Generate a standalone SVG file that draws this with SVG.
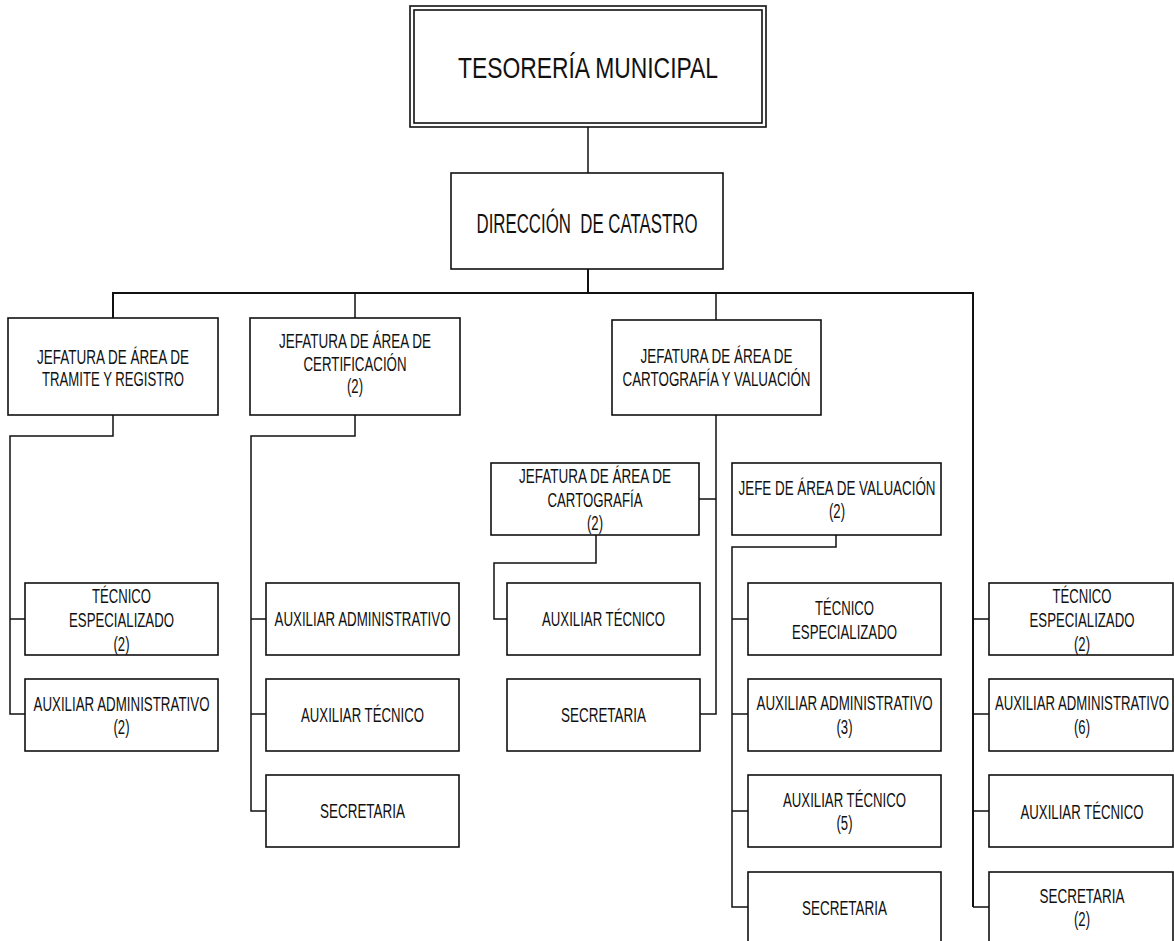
<svg xmlns="http://www.w3.org/2000/svg" width="1174" height="941" viewBox="0 0 1174 941">
  <style>
    .box { fill: #ffffff; stroke: #111111; stroke-width: 1.6; }
    .ln { fill: none; stroke: #111111; stroke-width: 1.5; }
    .bar { fill: none; stroke: #111111; stroke-width: 2; }
    text { font-family: "Liberation Sans", Arial, sans-serif; font-size: 20px; fill: #111111; text-anchor: middle; }
    .big { font-size: 30px; }
    .mid { font-size: 27px; }
  </style>
  <rect width="1174" height="941" fill="#ffffff"/>

  <!-- connectors -->
  <g id="connectors">
    <path class="ln" d="M588,127 V173"/>
    <path class="bar" d="M588,269 V293"/>
    <path class="bar" d="M113,318 V293 H973 V907"/>
    <path class="ln" d="M355,293 V318 M716,293 V320"/>
    <path class="ln" d="M973,619 H989 M973,714 H989 M973,811 H989 M973,907 H989"/>
    <!-- trámite y registro -->
    <path class="ln" d="M113,415 V436 H10 V714 H25 M10,619 H25"/>
    <!-- certificación -->
    <path class="ln" d="M355,415 V436 H251 V811 H266 M251,619 H266 M251,714 H266"/>
    <!-- cartografía y valuación -->
    <path class="ln" d="M716,415 V714 H700 M716,499 H699"/>
    <path class="ln" d="M596,535 V563 H494 V619 H507"/>
    <path class="ln" d="M836,535 V547 H732 V907 H748 M732,619 H748 M732,714 H748 M732,811 H748"/>
  </g>

  <g id="tesoreria">
    <rect class="box" x="410" y="6" width="356" height="121"/>
    <rect class="box" x="414" y="10" width="348" height="113"/>
    <text class="big" x="588" y="78" textLength="260" lengthAdjust="spacingAndGlyphs">TESORERÍA MUNICIPAL</text>
  </g>

  <g id="direccion">
    <rect class="box" x="451" y="173" width="272" height="96"/>
    <text class="mid" x="587" y="233" textLength="221" lengthAdjust="spacingAndGlyphs" xml:space="preserve">DIRECCIÓN  DE CATASTRO</text>
  </g>

  <g id="jef-tramite">
    <rect class="box" x="8" y="318" width="210" height="97"/>
    <text x="113" y="364" textLength="152" lengthAdjust="spacingAndGlyphs">JEFATURA DE ÁREA DE</text>
    <text x="113" y="386" textLength="142" lengthAdjust="spacingAndGlyphs">TRAMITE Y REGISTRO</text>
  </g>

  <g id="jef-certificacion">
    <rect class="box" x="250" y="318" width="210" height="97"/>
    <text x="355" y="348" textLength="152" lengthAdjust="spacingAndGlyphs">JEFATURA DE ÁREA DE</text>
    <text x="355" y="371" textLength="103" lengthAdjust="spacingAndGlyphs">CERTIFICACIÓN</text>
    <text x="355" y="393" textLength="16" lengthAdjust="spacingAndGlyphs">(2)</text>
  </g>

  <g id="jef-cartografia-valuacion">
    <rect class="box" x="612" y="320" width="209" height="95"/>
    <text x="716.5" y="363" textLength="152" lengthAdjust="spacingAndGlyphs">JEFATURA DE ÁREA DE</text>
    <text x="716.5" y="386" textLength="188" lengthAdjust="spacingAndGlyphs">CARTOGRAFÍA Y VALUACIÓN</text>
  </g>

  <g id="jef-cartografia">
    <rect class="box" x="491" y="463" width="208" height="72"/>
    <text x="595" y="483" textLength="152" lengthAdjust="spacingAndGlyphs">JEFATURA DE ÁREA DE</text>
    <text x="595" y="507" textLength="95" lengthAdjust="spacingAndGlyphs">CARTOGRAFÍA</text>
    <text x="595" y="530" textLength="16" lengthAdjust="spacingAndGlyphs">(2)</text>
  </g>

  <g id="jefe-valuacion">
    <rect class="box" x="732" y="463" width="209" height="72"/>
    <text x="837" y="495" textLength="197" lengthAdjust="spacingAndGlyphs">JEFE DE ÁREA DE VALUACIÓN</text>
    <text x="837" y="518" textLength="16" lengthAdjust="spacingAndGlyphs">(2)</text>
  </g>

  <!-- trámite y registro staff -->
  <g id="tr-tecnico">
    <rect class="box" x="25" y="583" width="193" height="72"/>
    <text x="121.5" y="603" textLength="59" lengthAdjust="spacingAndGlyphs">TÉCNICO</text>
    <text x="121.5" y="627" textLength="105" lengthAdjust="spacingAndGlyphs">ESPECIALIZADO</text>
    <text x="121.5" y="651" textLength="16" lengthAdjust="spacingAndGlyphs">(2)</text>
  </g>
  <g id="tr-aux-admin">
    <rect class="box" x="25" y="679" width="193" height="72"/>
    <text x="121.5" y="711" textLength="176" lengthAdjust="spacingAndGlyphs">AUXILIAR ADMINISTRATIVO</text>
    <text x="121.5" y="734" textLength="16" lengthAdjust="spacingAndGlyphs">(2)</text>
  </g>

  <!-- certificación staff -->
  <g id="ce-aux-admin">
    <rect class="box" x="266" y="583" width="193" height="72"/>
    <text x="362.5" y="626" textLength="176" lengthAdjust="spacingAndGlyphs">AUXILIAR ADMINISTRATIVO</text>
  </g>
  <g id="ce-aux-tecnico">
    <rect class="box" x="266" y="679" width="193" height="72"/>
    <text x="362.5" y="722" textLength="123" lengthAdjust="spacingAndGlyphs">AUXILIAR TÉCNICO</text>
  </g>
  <g id="ce-secretaria">
    <rect class="box" x="266" y="775" width="193" height="72"/>
    <text x="362.5" y="818" textLength="85" lengthAdjust="spacingAndGlyphs">SECRETARIA</text>
  </g>

  <!-- cartografía staff -->
  <g id="ca-aux-tecnico">
    <rect class="box" x="507" y="583" width="193" height="72"/>
    <text x="603.5" y="626" textLength="123" lengthAdjust="spacingAndGlyphs">AUXILIAR TÉCNICO</text>
  </g>
  <g id="ca-secretaria">
    <rect class="box" x="507" y="679" width="193" height="72"/>
    <text x="603.5" y="722" textLength="85" lengthAdjust="spacingAndGlyphs">SECRETARIA</text>
  </g>

  <!-- valuación staff -->
  <g id="va-tecnico">
    <rect class="box" x="748" y="583" width="193" height="72"/>
    <text x="844.5" y="615" textLength="59" lengthAdjust="spacingAndGlyphs">TÉCNICO</text>
    <text x="844.5" y="639" textLength="105" lengthAdjust="spacingAndGlyphs">ESPECIALIZADO</text>
  </g>
  <g id="va-aux-admin">
    <rect class="box" x="748" y="679" width="193" height="72"/>
    <text x="844.5" y="710" textLength="176" lengthAdjust="spacingAndGlyphs">AUXILIAR ADMINISTRATIVO</text>
    <text x="844.5" y="734" textLength="16" lengthAdjust="spacingAndGlyphs">(3)</text>
  </g>
  <g id="va-aux-tecnico">
    <rect class="box" x="748" y="775" width="193" height="72"/>
    <text x="844.5" y="807" textLength="123" lengthAdjust="spacingAndGlyphs">AUXILIAR TÉCNICO</text>
    <text x="844.5" y="830" textLength="16" lengthAdjust="spacingAndGlyphs">(5)</text>
  </g>
  <g id="va-secretaria">
    <rect class="box" x="748" y="872" width="193" height="72"/>
    <text x="844.5" y="915" textLength="85" lengthAdjust="spacingAndGlyphs">SECRETARIA</text>
  </g>

  <!-- staff attached directly to the dirección -->
  <g id="di-tecnico">
    <rect class="box" x="989" y="583" width="184" height="72"/>
    <text x="1082" y="603" textLength="59" lengthAdjust="spacingAndGlyphs">TÉCNICO</text>
    <text x="1082" y="627" textLength="105" lengthAdjust="spacingAndGlyphs">ESPECIALIZADO</text>
    <text x="1082" y="651" textLength="16" lengthAdjust="spacingAndGlyphs">(2)</text>
  </g>
  <g id="di-aux-admin">
    <rect class="box" x="989" y="679" width="184" height="72"/>
    <text x="1082" y="710" textLength="174" lengthAdjust="spacingAndGlyphs">AUXILIAR ADMINISTRATIVO</text>
    <text x="1082" y="734" textLength="16" lengthAdjust="spacingAndGlyphs">(6)</text>
  </g>
  <g id="di-aux-tecnico">
    <rect class="box" x="989" y="775" width="184" height="72"/>
    <text x="1082" y="819" textLength="123" lengthAdjust="spacingAndGlyphs">AUXILIAR TÉCNICO</text>
  </g>
  <g id="di-secretaria">
    <rect class="box" x="989" y="872" width="184" height="72"/>
    <text x="1082" y="903" textLength="85" lengthAdjust="spacingAndGlyphs">SECRETARIA</text>
    <text x="1082" y="926" textLength="16" lengthAdjust="spacingAndGlyphs">(2)</text>
  </g>
</svg>
